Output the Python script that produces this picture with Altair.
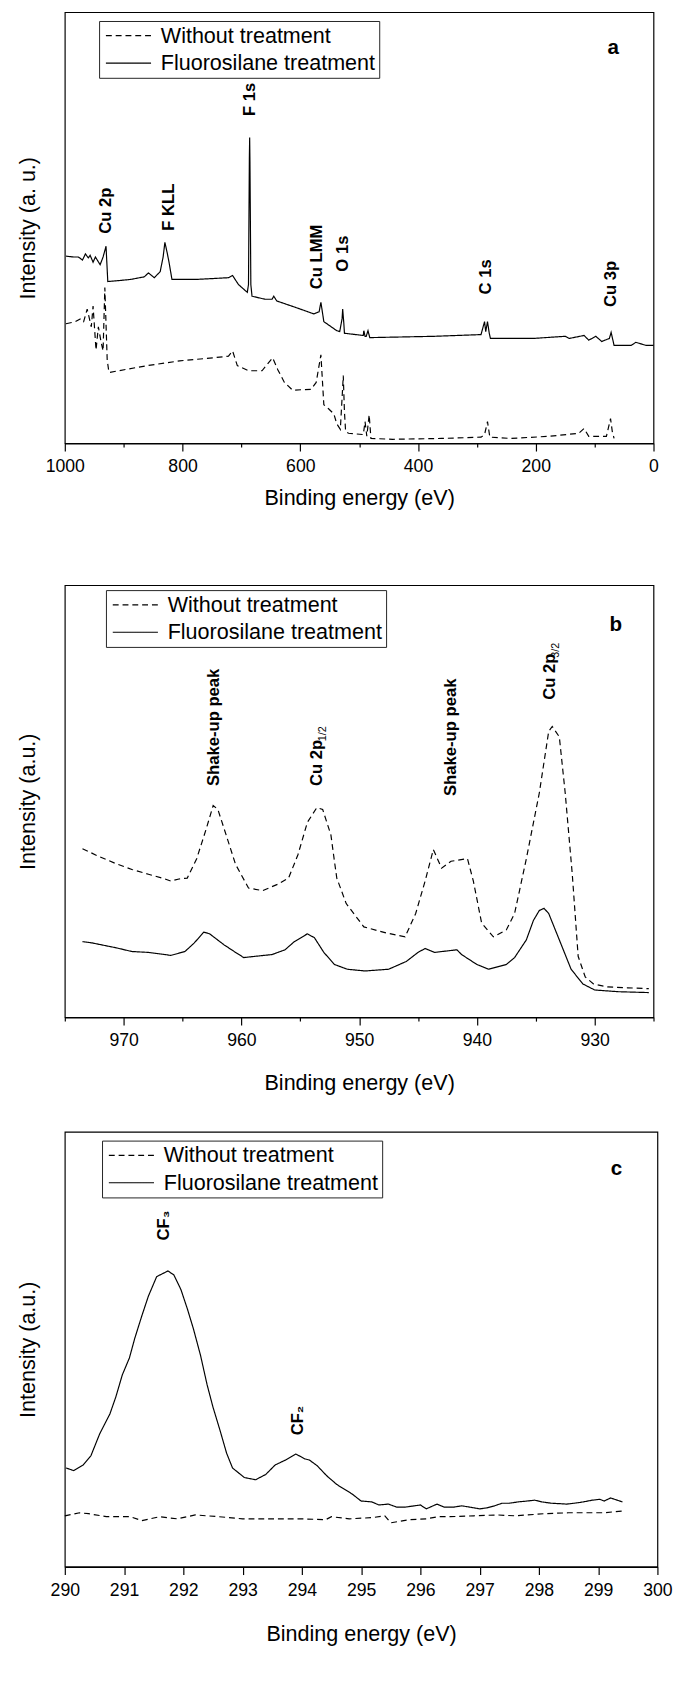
import altair as alt
import pandas as pd

FONT = "Liberation Sans"
SERIES = ["Without treatment", "Fluorosilane treatment"]

# ---------------- Panel a : survey spectrum ----------------
a_solid_ev = [998, 985, 977, 970, 965, 960, 957, 952, 948, 944, 940, 935, 930, 927, 910, 888, 865, 858, 848, 838,
              833, 830, 826, 823, 818, 777, 748, 722, 715, 705, 690, 688, 686.5, 686, 685.5, 684, 682, 660, 648, 645,
              640, 610, 577, 568, 565, 560, 538, 533, 529, 528, 526, 525, 493, 492, 490, 488, 485, 482, 480, 372,
              293, 287, 285, 282, 279, 277, 205, 150, 143, 118, 110, 98, 88, 75, 72, 67, 38, 30, 25, 13, 0]
a_solid_int = [43.4, 43.2, 43.2, 42.5, 43.9, 43.0, 43.6, 42.0, 43.2, 42.3, 41.4, 43.2, 45.7, 37.5, 37.7, 38.0, 38.6,
               39.5, 38.4, 39.8, 43.2, 46.6, 44.1, 42.0, 38.0, 38.0, 38.2, 38.4, 38.9, 36.8, 35.0, 36.8, 66.4, 70.9,
               65.2, 36.8, 34.1, 33.4, 33.4, 34.1, 33.0, 31.6, 30.0, 30.5, 32.7, 28.2, 26.1, 25.9, 28.9, 31.1, 27.7,
               25.5, 25.0, 26.1, 24.8, 24.8, 26.1, 24.5, 24.5, 24.8, 25.2, 28.2, 25.9, 28.2, 25.5, 24.3, 24.3, 24.8,
               24.3, 25.0, 23.9, 24.8, 23.6, 24.3, 25.7, 22.7, 22.7, 23.4, 23.2, 22.7, 22.7]
a_dash_ev = [998, 982, 973, 968, 962, 955, 952, 947, 943, 938, 935, 932, 928, 925, 860, 805, 748, 722, 715, 707,
             688, 665, 647, 638, 627, 613, 582, 573, 565, 560, 552, 543, 538, 532, 528, 527, 525, 523, 518, 493,
             490, 487, 483, 480, 443, 360, 293, 287, 282, 278, 243, 177, 127, 118, 110, 80, 73, 70, 67]
a_dash_int = [27.7, 28.2, 28.9, 28.2, 31.1, 27.0, 31.8, 21.6, 27.0, 23.2, 21.4, 36.1, 19.3, 16.4, 18.0, 19.1, 19.8,
              20.2, 21.4, 18.0, 16.8, 16.8, 19.8, 17.0, 14.1, 12.3, 12.5, 14.1, 20.5, 8.9, 8.0, 6.8, 4.5, 3.2, 13.0,
              15.7, 7.3, 2.7, 2.3, 2.0, 5.0, 1.6, 6.6, 1.1, 0.9, 1.1, 1.4, 2.0, 5.0, 1.4, 1.1, 1.6, 2.3, 3.4, 1.6,
              1.6, 5.7, 2.7, 1.1]
a_peak_labels = ["Cu 2p", "F KLL", "F 1s", "Cu LMM", "O 1s", "C 1s", "Cu 3p"]
a_peak_ev = [930, 823, 685, 572, 527, 285, 72]
a_peak_int = [48.6, 49.3, 75.9, 35.7, 39.8, 34.5, 31.6]
a_ticks = [1000, 900, 800, 700, 600, 500, 400, 300, 200, 100, 0]

# ---------------- Panel b : Cu 2p ----------------
b_dash_ev = [973.5, 972.1, 970.7, 969.3, 967.9, 966.5, 966.0, 965.3, 964.6, 963.8, 963.0, 962.4, 962.0, 961.3,
             960.5, 959.4, 958.2, 956.9, 956.0, 955.2, 954.4, 953.6, 953.1, 952.4, 952.1, 951.9, 951.1, 949.6,
             947.7, 946.1, 945.2, 944.4, 943.7, 943.0, 942.2, 940.8, 940.3, 939.6, 938.6, 937.5, 936.8, 935.8,
             934.7, 933.9, 933.6, 933.0, 932.5, 931.9, 931.4, 930.8, 930.1, 928.9, 927.2, 925.4]
b_dash_int = [39.0, 37.2, 35.6, 34.2, 33.1, 32.0, 31.5, 32.0, 32.2, 36.7, 43.5, 49.0, 48.1, 42.2, 35.4, 29.9, 29.3,
              30.8, 32.2, 37.6, 45.1, 48.5, 48.1, 42.2, 36.1, 32.2, 26.3, 20.9, 19.5, 18.6, 24.0, 31.5, 38.8, 34.5,
              36.1, 36.7, 31.5, 21.8, 18.6, 20.2, 24.0, 36.7, 51.9, 66.2, 67.3, 64.9, 51.9, 33.1, 14.1, 9.3, 7.7,
              7.0, 6.8, 6.6]
b_solid_ev = [973.5, 972.7, 970.7, 969.3, 967.9, 966.5, 966.0, 964.8, 964.0, 963.2, 962.7, 961.5, 960.5, 959.8,
              958.8, 957.4, 956.3, 955.5, 954.4, 953.8, 953.0, 952.1, 951.0, 949.5, 947.5, 946.0, 945.0, 944.4,
              943.6, 941.7, 941.3, 940.0, 939.0, 937.5, 936.8, 935.8, 935.2, 934.7, 934.3, 933.9, 933.0, 932.0,
              931.0, 930.0, 928.0, 925.4]
b_solid_int = [17.5, 17.2, 16.1, 15.2, 15.0, 14.5, 14.3, 15.2, 17.2, 19.7, 19.3, 16.8, 15.0, 13.8, 14.1, 14.5, 15.6,
               17.5, 19.3, 18.4, 15.0, 12.2, 11.1, 10.7, 11.1, 12.9, 15.0, 15.9, 15.0, 15.6, 14.5, 12.2, 11.1, 12.2,
               13.8, 17.9, 22.4, 24.7, 25.2, 24.0, 17.9, 11.1, 7.7, 6.3, 5.9, 5.7]
b_peak_labels = ["Shake-up peak", "Cu 2p", "Shake-up peak", "Cu 2p"]
b_peak_ev = [962.3, 953.6, 942.2, 933.8]
b_peak_int = [53.5, 53.5, 51.2, 73.5]
b_sub_labels = ["1/2", "3/2"]
b_sub_ev = [953.1, 933.3]
b_sub_int = [63.9, 83.2]
b_ticks = [975, 970, 965, 960, 955, 950, 945, 940, 935, 930, 925]

# ---------------- Panel c : C 1s ----------------
c_solid_ev = [290.02, 290.15, 290.31, 290.44, 290.59, 290.76, 290.86, 290.97, 291.09, 291.18, 291.30, 291.41,
              291.55, 291.74, 291.84, 291.96, 292.07, 292.17, 292.29, 292.40, 292.50, 292.62, 292.73, 292.83,
              293.03, 293.22, 293.39, 293.55, 293.72, 293.90, 294.05, 294.13, 294.26, 294.42, 294.59, 294.85,
              295.0, 295.18, 295.3, 295.46, 295.6, 295.74, 295.9, 296.0, 296.1, 296.28, 296.4, 296.56, 296.7,
              296.83, 297.0, 297.11, 297.25, 297.38, 297.5, 297.65, 297.8, 297.93, 298.05, 298.21, 298.47, 298.6,
              298.75, 298.9, 299.03, 299.1, 299.21, 299.41]
c_solid_int = [22.7, 22.1, 23.4, 25.5, 30.6, 35.1, 39.0, 44.1, 48.0, 52.5, 57.7, 62.2, 66.7, 68.0, 67.1, 63.7, 59.2,
               54.7, 48.6, 41.9, 36.7, 31.3, 26.1, 22.7, 20.5, 20.0, 21.2, 23.4, 24.5, 25.9, 24.8, 24.5, 23.2, 20.9,
               18.9, 16.7, 15.1, 14.9, 14.2, 14.4, 13.7, 13.7, 14.0, 14.2, 13.3, 14.4, 13.7, 13.7, 14.0, 13.7, 13.3,
               13.5, 14.0, 14.6, 14.6, 14.9, 15.1, 15.3, 14.9, 14.6, 14.4, 14.6, 14.9, 15.3, 15.5, 15.1, 15.8, 14.9]
c_dash_ev = [290.0, 290.25, 290.4, 290.7, 291.1, 291.3, 291.6, 291.9, 292.2, 292.6, 293.0, 293.6, 294.0, 294.4,
             294.5, 294.8, 295.2, 295.4, 295.5, 295.8, 296.1, 296.3, 296.5, 296.9, 297.3, 297.6, 298.1, 298.5,
             299.1, 299.4]
c_dash_int = [11.7, 12.4, 12.2, 11.5, 11.5, 10.6, 11.5, 11.0, 11.9, 11.5, 11.0, 11.0, 11.0, 10.8, 11.5, 11.0, 11.3,
              11.7, 10.1, 10.8, 11.0, 11.5, 11.5, 11.7, 11.9, 11.7, 12.2, 12.4, 12.4, 12.8]
c_peak_labels = ["CF\u2083", "CF\u2082"]
c_peak_ev = [291.68, 293.93]
c_peak_int = [75.0, 30.2]
c_ticks = [290 + 0.5 * i for i in range(21)]

panel_letters = ["a", "b", "c"]
letter_ev = [68.3, 928.2, 299.31]
letter_int = [91.6, 90.7, 91.4]


def lines_df(ev_d, int_d, ev_s, int_s):
    return pd.concat([
        pd.DataFrame({"ev": ev_d, "intensity": int_d, "series": SERIES[0]}),
        pd.DataFrame({"ev": ev_s, "intensity": int_s, "series": SERIES[1]}),
    ], ignore_index=True)


def panel(df, peaks, subs, letter, domain, reverse, ticks, major_test, w, h, ytitle,
          lx, ly, xtitle_pad, top_title):
    x_axis = alt.Axis(
        values=ticks, format="d", labelExpr=f"({major_test}) ? datum.label : ''",
        tickSize={"condition": {"test": major_test, "value": 8}, "value": 4},
        tickWidth=1.2, tickColor="black", domainColor="black", domainWidth=1.5,
        labelFontSize=18, labelPadding=7, labelFlush=False, labelOverlap=False,
        title="Binding energy (eV)", titleFontSize=22, titlePadding=xtitle_pad, grid=False,
    )
    y_axis = alt.Axis(title=ytitle, labels=False, ticks=False, domain=False, grid=False,
                      titleFontSize=22, titlePadding=26)
    xs = alt.Scale(domain=domain, reverse=reverse, nice=False, zero=False)
    ys = alt.Scale(domain=[0, 100], nice=False, zero=False)
    X = alt.X("ev:Q", scale=xs, axis=x_axis)
    Y = alt.Y("intensity:Q", scale=ys, axis=y_axis)

    lines = alt.Chart(df).mark_line(color="black", strokeWidth=1.2).encode(
        x=X, y=Y,
        strokeDash=alt.StrokeDash(
            "series:N",
            scale=alt.Scale(domain=SERIES, range=[[6, 4], [1, 0]]),
            legend=alt.Legend(
                title=None, orient="none", legendX=lx, legendY=ly,
                symbolType="M-5,0H5", symbolSize=85, symbolOffset=15,
                symbolStrokeWidth=1.2, symbolStrokeColor="black",
                labelFont=FONT, labelFontSize=22, labelColor="black", labelOffset=22,
                strokeColor="#222", fillColor="white", padding=4, rowPadding=6,
                labelLimit=400,
            ),
        ),
    )
    layers = [lines]
    layers.append(alt.Chart(peaks).mark_text(
        angle=270, align="left", baseline="middle", font=FONT, fontWeight="bold",
        fontSize=17, color="black").encode(x=X, y=Y, text="label:N"))
    if subs is not None:
        layers.append(alt.Chart(subs).mark_text(
            angle=270, align="left", baseline="middle", font=FONT,
            fontSize=11, color="black").encode(x=X, y=Y, text="label:N"))
    layers.append(alt.Chart(letter).mark_text(
        align="center", baseline="middle", font=FONT, fontWeight="bold",
        fontSize=21, color="black").encode(x=X, y=Y, text="label:N"))
    return alt.layer(*layers).properties(width=w, height=h, title=top_title)


pa = panel(
    lines_df(a_dash_ev, a_dash_int, a_solid_ev, a_solid_int),
    pd.DataFrame({"ev": a_peak_ev, "intensity": a_peak_int, "label": a_peak_labels}),
    None,
    pd.DataFrame({"ev": [letter_ev[0]], "intensity": [letter_int[0]], "label": [panel_letters[0]]}),
    [0, 1000], True, a_ticks, "datum.value % 200 === 0", 601, 440, "Intensity (a. u.)",
    35, 9, 13,
    alt.TitleParams(text=" ", fontSize=1, offset=0),
)

pb = panel(
    lines_df(b_dash_ev, b_dash_int, b_solid_ev, b_solid_int),
    pd.DataFrame({"ev": b_peak_ev, "intensity": b_peak_int, "label": b_peak_labels}),
    pd.DataFrame({"ev": b_sub_ev, "intensity": b_sub_int, "label": b_sub_labels}),
    pd.DataFrame({"ev": [letter_ev[1]], "intensity": [letter_int[1]], "label": [panel_letters[1]]}),
    [925, 975], True, b_ticks, "datum.value % 10 === 0", 601, 441, "Intensity (a.u.)",
    42, 5, 24,
    alt.TitleParams(text=" ", fontSize=10, offset=66),
)

pc = panel(
    lines_df(c_dash_ev, c_dash_int, c_solid_ev, c_solid_int),
    pd.DataFrame({"ev": c_peak_ev, "intensity": c_peak_int, "label": c_peak_labels}),
    None,
    pd.DataFrame({"ev": [letter_ev[2]], "intensity": [letter_int[2]], "label": [panel_letters[2]]}),
    [290, 300], False, c_ticks, "datum.value % 1 === 0", 605, 444, "Intensity (a.u.)",
    38, 9, 25,
    alt.TitleParams(text=" ", fontSize=10, offset=27),
)

chart = alt.vconcat(pa, pb, pc, spacing=0).resolve_scale(
    strokeDash="independent", x="independent", y="independent"
).resolve_legend(strokeDash="independent").properties(
    padding={"left": 8, "top": -15, "right": 5, "bottom": 0}
).configure_view(
    stroke="black", strokeWidth=1.2
).configure_axis(
    labelFont=FONT, titleFont=FONT, labelColor="black", titleColor="black",
    titleFontWeight="normal",
).configure_title(font=FONT)

chart.save("out.html", embed_options={"renderer": "svg", "actions": False})
